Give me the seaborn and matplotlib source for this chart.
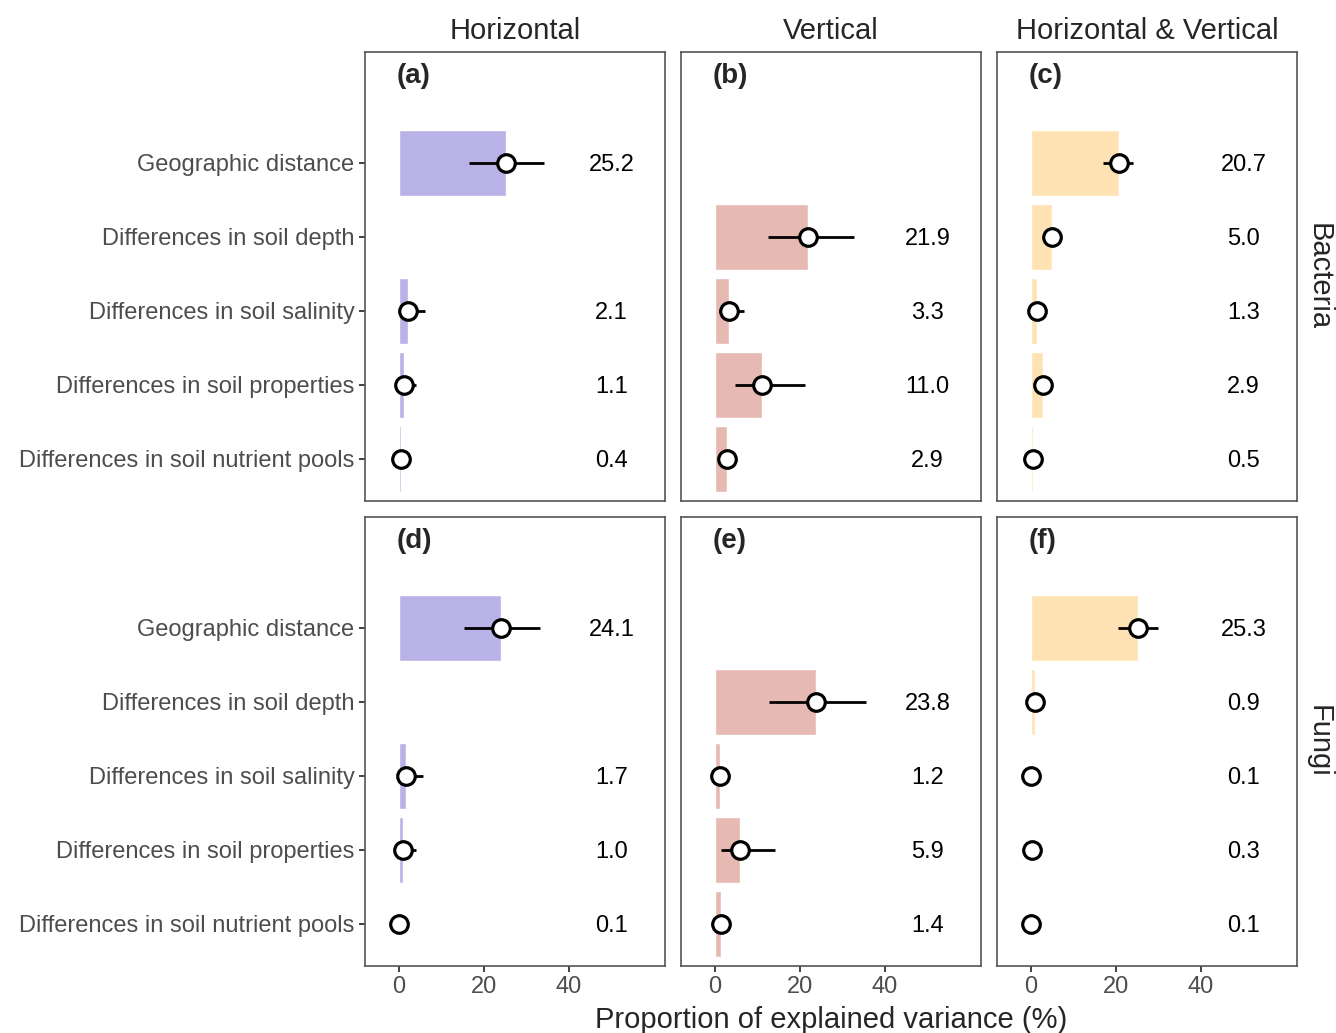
import numpy as np
import pandas as pd
import matplotlib
matplotlib.use("Agg")
import matplotlib.pyplot as plt
import seaborn as sns

sns.set_style("white")
plt.rcParams["font.family"] = ["Liberation Sans", "DejaVu Sans"]

# ---------------- data ----------------
factors = ["Geographic distance", "Differences in soil depth",
           "Differences in soil salinity", "Differences in soil properties",
           "Differences in soil nutrient pools"]
scales = ["Horizontal", "Vertical", "Horizontal & Vertical"]
groups = ["Bacteria", "Fungi"]
panel_tags = ["(a)", "(b)", "(c)", "(d)", "(e)", "(f)"]

h_factors = ["Geographic distance", "Differences in soil salinity",
             "Differences in soil properties", "Differences in soil nutrient pools"]
v_factors = ["Differences in soil depth", "Differences in soil salinity",
             "Differences in soil properties", "Differences in soil nutrient pools"]
hv_factors = factors

# Bacteria
bac_h_val = [25.2, 2.1, 1.1, 0.4]
bac_h_lo = [16.5, 0.0, 0.0, 0.0]
bac_h_hi = [34.1, 6.2, 4.1, 1.0]
bac_v_val = [21.9, 3.3, 11.0, 2.9]
bac_v_lo = [12.4, 1.0, 4.6, 1.0]
bac_v_hi = [32.6, 6.8, 21.2, 5.0]
bac_hv_val = [20.7, 5.0, 1.3, 2.9, 0.5]
bac_hv_lo = [17.0, 3.5, 0.5, 2.0, 0.0]
bac_hv_hi = [23.9, 6.0, 2.0, 3.5, 1.0]

# Fungi
fun_h_val = [24.1, 1.7, 1.0, 0.1]
fun_h_lo = [15.3, 0.0, 0.0, 0.0]
fun_h_hi = [33.2, 5.6, 4.1, 0.5]
fun_v_val = [23.8, 1.2, 5.9, 1.4]
fun_v_lo = [12.7, 0.5, 1.3, 0.5]
fun_v_hi = [35.5, 2.0, 14.1, 2.5]
fun_hv_val = [25.3, 0.9, 0.1, 0.3, 0.1]
fun_hv_lo = [20.5, 0.3, 0.0, 0.0, 0.0]
fun_hv_hi = [29.8, 1.5, 0.5, 0.8, 0.5]

bar_colors = {"Horizontal": "#B9B2E6", "Vertical": "#E6B9B3",
              "Horizontal & Vertical": "#FFE2B3"}

rows = []
for grp, sets in [("Bacteria", [(h_factors, bac_h_val, bac_h_lo, bac_h_hi),
                                (v_factors, bac_v_val, bac_v_lo, bac_v_hi),
                                (hv_factors, bac_hv_val, bac_hv_lo, bac_hv_hi)]),
                  ("Fungi", [(h_factors, fun_h_val, fun_h_lo, fun_h_hi),
                             (v_factors, fun_v_val, fun_v_lo, fun_v_hi),
                             (hv_factors, fun_hv_val, fun_hv_lo, fun_hv_hi)])]:
    for sc, (fac, val, lo, hi) in zip(scales, sets):
        for f, v, l, h in zip(fac, val, lo, hi):
            rows.append({"group": grp, "scale": sc, "factor": f,
                         "value": v, "lo": l, "hi": h})
df = pd.DataFrame(rows)
df["pos"] = df["factor"].map({f: i for i, f in enumerate(factors)})

# ---------------- plot ----------------
fig, axes = plt.subplots(2, 3, figsize=(13.36, 10.33), dpi=100)
fig.subplots_adjust(left=0.2732, right=0.9708, top=0.9497, bottom=0.0649,
                    wspace=0.0533, hspace=0.0356)

for r, grp in enumerate(groups):
    for c, sc in enumerate(scales):
        ax = axes[r, c]
        sub = df[(df["group"] == grp) & (df["scale"] == sc)]
        sns.barplot(data=sub, x="value", y="factor", order=factors, orient="h",
                    color=bar_colors[sc], saturation=1, width=0.9, ax=ax)
        ax.hlines(sub["pos"], sub["lo"], sub["hi"], color="black", lw=2, zorder=3)
        sns.scatterplot(data=sub, x="value", y="pos", ax=ax, s=160, marker="o",
                        facecolor="white", edgecolor="black", linewidth=2.3,
                        zorder=4, legend=False)
        for _, row in sub.iterrows():
            ax.text(50, row["pos"], f"{row['value']:.1f}", ha="center",
                    va="center_baseline", fontsize=17, color="black")
        ax.text(0.105, 0.946, panel_tags[r * 3 + c], transform=ax.transAxes,
                fontsize=20, fontweight="bold", va="center", ha="left")

        ax.set_xlim(-8, 62.6)
        ax.set_ylim(4.57, -1.5)
        ax.set_xticks([0, 20, 40])
        ax.set_yticks(range(len(factors)))
        ax.set_xlabel("")
        ax.set_ylabel("")
        for sp in ax.spines.values():
            sp.set_visible(True)
            sp.set_color("#555555")
            sp.set_linewidth(1.2)
        ax.tick_params(axis="both", length=4.5, width=1.3, color="#333333",
                       labelcolor="#4D4D4D", labelsize=17, bottom=True, left=True,
                       pad=3)
        if c == 0:
            ax.set_yticklabels(factors)
        else:
            ax.tick_params(axis="y", left=False, labelleft=False)
        if r == 0:
            ax.set_title(sc, fontsize=21, pad=9)
            ax.tick_params(axis="x", bottom=False, labelbottom=False)
        if c == 2:
            ax.text(1.025, 0.5, grp, transform=ax.transAxes, rotation=-90,
                    fontsize=21, va="center", ha="left")

fig.text(0.622, 0.013, "Proportion of explained variance (%)", ha="center",
         va="center", fontsize=21)

plt.savefig("out.png", dpi=100)
